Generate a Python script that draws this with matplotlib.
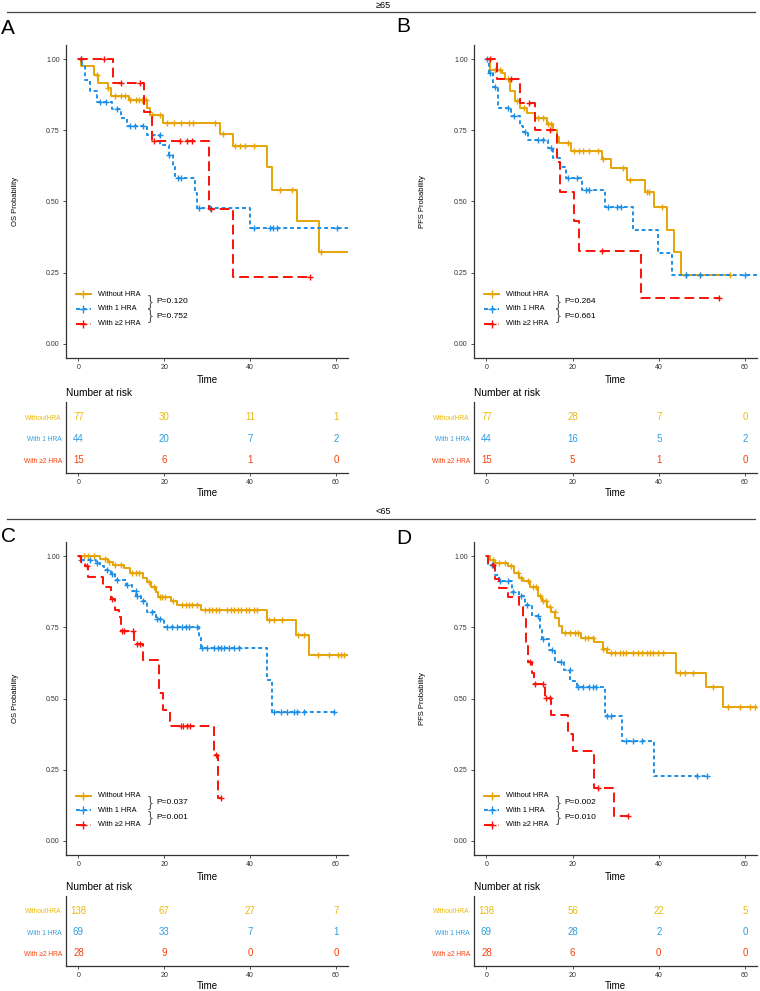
import numpy as np
import matplotlib
matplotlib.use('Agg')
from matplotlib import pyplot as plt
from matplotlib.lines import Line2D

plt.rcParams['font.family'] = ['Liberation Sans', 'DejaVu Sans']

groups = ['Without HRA', 'With 1 HRA', 'With \u22652 HRA']
risk_labels = ['WithoutHRA', 'With 1 HRA', 'With \u22652 HRA']
line_colors = ['#E6A408', '#1E8FE6', '#FA1208']
table_colors = ['#EBBA10', '#2E9FDF', '#FC3F0A']
risk_times = [0, 20, 40, 60]

# ---- panel A: OS, >=65 ----
a_wo_t = [0.7, 3.6, 4.5, 6.8, 7.5, 11.8, 16.0, 16.7, 19.8, 32.9, 35.9, 43.9, 45.0, 51.0, 56.0]
a_wo_s = [0.977, 0.946, 0.917, 0.90, 0.871, 0.856, 0.829, 0.805, 0.776, 0.738, 0.696, 0.621, 0.541, 0.432, 0.322]
a_wo_c = [4.3, 7.0, 8.6, 9.8, 10.9, 12.1, 13.3, 14.0, 14.8, 15.7, 17.1, 18.9, 20.6, 22.2, 24.0, 25.7, 26.8,
          31.9, 33.6, 36.5, 37.7, 38.8, 40.9, 47.0, 49.7, 56.6]
a_wo_end = 62.8
a_w1_t = [0.9, 1.6, 2.8, 4.3, 7.8, 9.8, 11.3, 16.0, 19.1, 21.0, 22.0, 22.6, 27.1, 27.6, 40.0]
a_w1_s = [0.975, 0.928, 0.89, 0.851, 0.824, 0.795, 0.764, 0.732, 0.70, 0.662, 0.623, 0.583, 0.53, 0.478, 0.408]
a_w1_c = [0.5, 5.0, 6.5, 9.0, 12.0, 13.2, 15.0, 19.0, 21.0, 23.3, 24.0, 28.0, 30.7, 41.0, 44.6, 45.3, 46.2, 60.2]
a_w1_end = 62.8
a_w2_t = [8.0, 15.2, 17.1, 30.5, 35.9]
a_w2_s = [0.918, 0.815, 0.711, 0.475, 0.236]
a_w2_c = [0.5, 5.9, 9.9, 14.4, 17.5, 23.7, 25.3, 26.4, 30.8, 54.0]
a_w2_end = 54.0
a_risk = [[77, 30, 11, 1], [44, 20, 7, 2], [15, 6, 1, 0]]
a_p = ['P=0.120', 'P=0.752']

# ---- panel B: PFS, >=65 ----
b_wo_t = [0.8, 3.5, 4.3, 5.4, 6.6, 7.8, 9.3, 11.2, 14.0, 15.5, 16.3, 16.8, 19.6, 26.7, 29.0, 32.6, 36.8,
          38.8, 41.9, 43.6, 45.1]
b_wo_s = [0.961, 0.95, 0.929, 0.887, 0.854, 0.828, 0.81, 0.793, 0.772, 0.75, 0.725, 0.704, 0.679, 0.648,
          0.617, 0.577, 0.533, 0.48, 0.40, 0.321, 0.241]
b_wo_c = [1.9, 3.1, 5.0, 7.0, 8.7, 12.0, 13.2, 14.2, 15.0, 19.0, 20.2, 21.5, 22.5, 23.9, 26.0, 27.0, 31.8,
          33.3, 37.2, 37.8, 40.7, 46.3, 49.6, 56.6]
b_wo_end = 56.6
b_w1_t = [0.6, 1.5, 2.7, 5.8, 7.8, 8.4, 9.7, 14.3, 15.5, 17.0, 18.4, 22.1, 27.5, 34.1, 39.8, 43.0]
b_w1_s = [0.953, 0.903, 0.828, 0.80, 0.766, 0.745, 0.717, 0.687, 0.653, 0.62, 0.582, 0.542, 0.48, 0.40,
          0.32, 0.24]
b_w1_c = [0.2, 0.8, 1.9, 4.9, 6.4, 8.9, 12.0, 13.2, 14.9, 19.0, 20.9, 23.0, 23.9, 28.1, 30.4, 31.2, 46.4,
          49.6, 60.1]
b_w1_end = 63.5
b_w2_t = [2.5, 7.8, 11.2, 16.3, 17.0, 20.2, 21.5, 35.9]
b_w2_s = [0.93, 0.845, 0.75, 0.64, 0.535, 0.43, 0.325, 0.161]
b_w2_c = [0.8, 5.8, 9.9, 14.7, 26.9, 53.9]
b_w2_end = 53.9
b_risk = [[77, 28, 7, 0], [44, 16, 5, 2], [15, 5, 1, 0]]
b_p = ['P=0.264', 'P=0.661']

# ---- panel C: OS, <65 ----
c_wo_t = [5.1, 6.8, 8.1, 10.7, 12.0, 15.1, 16.0, 17.0, 18.0, 18.5, 21.5, 23.0, 28.5, 44.0, 50.7, 53.8]
c_wo_s = [0.99, 0.98, 0.97, 0.959, 0.941, 0.924, 0.908, 0.893, 0.873, 0.858, 0.844, 0.829, 0.811, 0.777,
          0.724, 0.653]
c_wo_c = [1.2, 2.2, 3.6, 6.1, 7.1, 8.6, 9.8, 12.5, 13.3, 14.1, 16.4, 17.6, 19.0, 19.5, 20.1, 22.1, 24.2,
          25.0, 25.8, 26.5, 27.7, 29.6, 30.4, 31.2, 32.0, 32.8, 34.7, 35.5, 36.3, 37.2, 37.8, 39.0, 39.8,
          40.9, 41.7, 44.4, 45.6, 47.5, 51.1, 52.6, 55.7, 58.4, 60.4, 61.2, 61.9]
c_wo_end = 62.8
c_w1_t = [0.3, 4.0, 5.0, 6.0, 7.5, 8.5, 11.0, 12.5, 13.5, 14.5, 16.0, 18.0, 20.0, 28.0, 28.6, 44.0, 45.0]
c_w1_s = [0.985, 0.975, 0.965, 0.953, 0.938, 0.917, 0.899, 0.877, 0.861, 0.842, 0.803, 0.78, 0.752, 0.717,
          0.677, 0.566, 0.451]
c_w1_c = [0.5, 2.8, 4.4, 6.7, 7.9, 9.0, 11.2, 13.3, 13.7, 15.1, 17.2, 18.4, 19.1, 20.7, 21.9, 23.0, 24.2,
          25.0, 25.8, 27.7, 28.9, 30.0, 31.6, 32.4, 33.2, 33.9, 35.1, 36.3, 37.4, 45.6, 47.2, 48.7, 50.3,
          51.0, 52.6, 59.6]
c_w1_end = 59.6
c_w2_t = [0.5, 1.5, 2.3, 5.8, 7.5, 8.6, 9.5, 10.0, 13.0, 15.0, 18.8, 19.8, 21.3, 31.5, 32.5]
c_w2_s = [0.975, 0.965, 0.926, 0.891, 0.85, 0.81, 0.785, 0.736, 0.691, 0.636, 0.521, 0.461, 0.405, 0.30,
          0.149]
c_w2_c = [1.9, 7.9, 10.2, 10.7, 12.8, 13.7, 14.3, 23.8, 24.4, 25.4, 26.1, 32.0, 33.2]
c_w2_end = 33.2
c_risk = [[138, 67, 27, 7], [69, 33, 7, 1], [28, 9, 0, 0]]
c_p = ['P=0.037', 'P=0.001']

# ---- panel D: PFS, <65 ----
d_wo_t = [0.7, 2.0, 5.0, 6.5, 7.5, 8.5, 10.0, 12.0, 13.0, 14.0, 15.0, 16.0, 16.8, 17.5, 22.0, 25.0, 27.0,
          28.0, 44.0, 51.0, 55.0]
d_wo_s = [0.985, 0.975, 0.965, 0.941, 0.925, 0.912, 0.892, 0.859, 0.842, 0.82, 0.804, 0.783, 0.755, 0.73,
          0.712, 0.697, 0.675, 0.66, 0.59, 0.539, 0.47]
d_wo_c = [1.5, 2.9, 4.3, 5.8, 7.2, 8.1, 9.7, 10.8, 11.6, 12.4, 13.2, 13.9, 14.7, 15.9, 18.2, 19.4, 20.5,
          21.3, 22.8, 23.6, 24.8, 27.1, 27.9, 29.0, 29.8, 31.0, 31.7, 32.5, 34.1, 35.2, 36.0, 37.2, 37.9,
          38.7, 39.9, 41.0, 44.9, 46.1, 48.0, 52.6, 56.1, 58.8, 61.1, 62.3]
d_wo_end = 63.5
d_w1_t = [0.3, 2.0, 3.0, 6.0, 7.5, 9.0, 10.5, 12.5, 13.0, 14.5, 16.0, 18.0, 19.5, 21.0, 27.5, 31.5, 39.0]
d_w1_s = [0.97, 0.935, 0.912, 0.876, 0.859, 0.83, 0.789, 0.748, 0.71, 0.671, 0.63, 0.60, 0.562, 0.542,
          0.439, 0.349, 0.229]
d_w1_c = [1.2, 3.1, 5.0, 6.2, 8.1, 9.3, 12.0, 13.2, 15.1, 17.4, 19.4, 21.3, 22.4, 23.8, 24.8, 25.5, 27.9,
          29.0, 32.5, 34.1, 36.0, 48.8, 51.1]
d_w1_end = 51.1
d_w2_t = [0.3, 2.0, 3.0, 5.0, 7.5, 8.5, 9.2, 9.7, 10.5, 11.0, 13.5, 15.0, 19.0, 20.0, 25.0, 29.5]
d_w2_s = [0.97, 0.92, 0.89, 0.856, 0.82, 0.78, 0.70, 0.63, 0.589, 0.552, 0.501, 0.442, 0.376, 0.314,
          0.184, 0.087]
d_w2_c = [1.5, 10.1, 11.2, 13.2, 13.9, 14.7, 25.9, 32.9]
d_w2_end = 32.9
d_risk = [[138, 56, 22, 5], [69, 28, 2, 0], [28, 6, 0, 0]]
d_p = ['P=0.002', 'P=0.010']

line_styles = ['-', (0, (2, 1.5)), (0, (5, 2.5))]
W, H = 760, 991


def rect(l, t, r, b):
    return [l / W, 1 - b / H, (r - l) / W, (b - t) / H]


def surv_at(tt, ss, c):
    vals = np.concatenate([[1.0], ss])
    return vals[np.searchsorted(tt, c, side='right')]


def km_panel(ax, curves, ylabel, pvals, leg_y):
    for k, (tt, ss, cc, end) in enumerate(curves):
        x = [0] + tt + [end]
        y = [1.0] + ss + [ss[-1]]
        ax.step(x, y, where='post', color=line_colors[k], ls=line_styles[k], lw=1.4)
        ax.plot(cc, surv_at(np.array(tt), np.array(ss), np.array(cc)), ls='none', marker='+',
                ms=5, mew=1.0, color=line_colors[k])
    ax.set_xlim(-2.9, 62.8)
    ax.set_ylim(-0.05, 1.05)
    ax.set_xticks(risk_times)
    ax.set_yticks([0, 0.25, 0.5, 0.75, 1.0])
    ax.set_yticklabels(['0.00', '0.25', '0.50', '0.75', '1.00'])
    for s in ['top', 'right']:
        ax.spines[s].set_visible(False)
    for s in ['left', 'bottom']:
        ax.spines[s].set_color('#333333')
        ax.spines[s].set_linewidth(0.9)
    ax.tick_params(labelsize=5, length=2.5, width=0.6, color='#333333', labelcolor='#333333', pad=2)
    ax.set_ylabel(ylabel, fontsize=5.5)
    ax.yaxis.set_label_coords(-0.168, 0.5)
    ax.set_xlabel('Time', fontsize=7)
    ax.xaxis.set_label_coords(0.5, -0.055)
    # legend
    ys = [leg_y, leg_y - 0.047, leg_y - 0.094]
    for k in range(3):
        ax.plot([0.035, 0.089], [ys[k], ys[k]], transform=ax.transAxes, color=line_colors[k],
                ls=line_styles[k], lw=1.4, clip_on=False)
        ax.plot([0.062], [ys[k]], transform=ax.transAxes, color=line_colors[k], marker='+', ms=6,
                mew=1.0, clip_on=False)
        ax.text(0.113, ys[k], groups[k], transform=ax.transAxes, fontsize=5.3, va='center', ha='left')
    for j in range(2):
        ym = (ys[j] + ys[j + 1]) / 2
        ax.text(0.29, ym, '}', transform=ax.transAxes, fontsize=10.5, va='center', ha='left',
                color='#555555')
        ax.text(0.32, ym, pvals[j], transform=ax.transAxes, fontsize=6, va='center', ha='left')


def risk_panel(ax, risk):
    for k in range(3):
        for j, t in enumerate(risk_times):
            ax.text(t, 3 - k, str(risk[k][j]), color=table_colors[k], fontsize=7, ha='center', va='center')
    ax.set_xlim(-2.9, 62.8)
    ax.set_ylim(0.4, 3.7)
    ax.set_xticks(risk_times)
    ax.set_yticks([3, 2, 1])
    ax.set_yticklabels(risk_labels)
    for lab, col in zip(ax.get_yticklabels(), table_colors):
        lab.set_color(col)
    for s in ['top', 'right']:
        ax.spines[s].set_visible(False)
    for s in ['left', 'bottom']:
        ax.spines[s].set_color('#333333')
        ax.spines[s].set_linewidth(0.9)
    ax.tick_params(axis='y', labelsize=4.8, length=0, pad=3)
    ax.tick_params(axis='x', labelsize=5, length=2.5, width=0.6, color='#333333', labelcolor='#333333', pad=2)
    ax.set_xlabel('Time', fontsize=7)
    ax.xaxis.set_label_coords(0.5, -0.21)
    ax.text(0, 1.13, 'Number at risk', transform=ax.transAxes, fontsize=7.3, ha='left', va='center')


fig = plt.figure(figsize=(7.6, 9.91), dpi=100)

panels = [
    ('A', (66, 45, 348, 358), (66, 402, 348, 473), 'OS Probability',
     [(a_wo_t, a_wo_s, a_wo_c, a_wo_end), (a_w1_t, a_w1_s, a_w1_c, a_w1_end), (a_w2_t, a_w2_s, a_w2_c, a_w2_end)],
     a_risk, a_p, 0.204, (8, 28)),
    ('B', (474, 45, 757, 358), (474, 402, 757, 473), 'PFS Probability',
     [(b_wo_t, b_wo_s, b_wo_c, b_wo_end), (b_w1_t, b_w1_s, b_w1_c, b_w1_end), (b_w2_t, b_w2_s, b_w2_c, b_w2_end)],
     b_risk, b_p, 0.204, (403, 27)),
    ('C', (66, 542, 348, 855), (66, 896, 348, 966), 'OS Probability',
     [(c_wo_t, c_wo_s, c_wo_c, c_wo_end), (c_w1_t, c_w1_s, c_w1_c, c_w1_end), (c_w2_t, c_w2_s, c_w2_c, c_w2_end)],
     c_risk, c_p, 0.19, (8, 536)),
    ('D', (474, 542, 757, 855), (474, 896, 757, 966), 'PFS Probability',
     [(d_wo_t, d_wo_s, d_wo_c, d_wo_end), (d_w1_t, d_w1_s, d_w1_c, d_w1_end), (d_w2_t, d_w2_s, d_w2_c, d_w2_end)],
     d_risk, d_p, 0.19, (404, 538)),
]

for letter, main_r, risk_r, ylab, curves, risk, pv, leg_y, lpos in panels:
    ax = fig.add_axes(rect(*main_r))
    km_panel(ax, curves, ylab, pv, leg_y)
    axr = fig.add_axes(rect(*risk_r))
    risk_panel(axr, risk)
    fig.text(lpos[0] / W, 1 - lpos[1] / H, letter, fontsize=15, ha='center', va='center')

# group headers
for label, ly, ty in [('\u226565', 12, 5), ('<65', 519, 512)]:
    fig.add_artist(Line2D([7 / W, 755 / W], [1 - ly / H] * 2, transform=fig.transFigure,
                          color='#444444', lw=0.9))
    fig.text(383 / W, 1 - ty / H, label, fontsize=6.5, ha='center', va='center')

fig.savefig('out.png', dpi=100)
